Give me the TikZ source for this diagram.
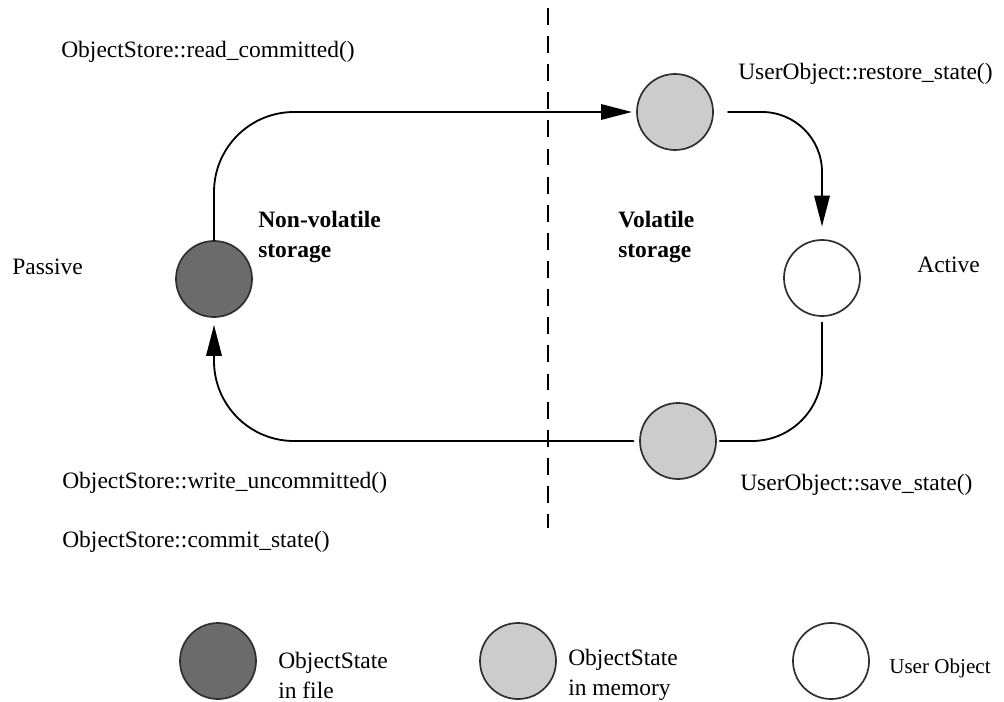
\documentclass[tikz,border=0pt]{standalone}
\usepackage{fontspec}
\setmainfont{Liberation Serif}
\usetikzlibrary{arrows.meta, positioning}
\definecolor{filegray}{gray}{0.42}
\definecolor{memgray}{gray}{0.8}
\definecolor{rimgray}{gray}{0.18}

\begin{document}
\begin{tikzpicture}[
    x=0.025cm, y=-0.025cm,
    every node/.style={font=\fontsize{16.7}{21.3}\selectfont},
    state/.style={circle, draw=rimgray, line width=1.2pt, inner sep=0pt, minimum size=1.9cm},
    lbl/.style={anchor=west, inner sep=0pt, align=left},
    flow/.style={line width=1.3pt, line cap=round},
    arrow/.style={-{Triangle[length=22pt, width=11pt]}}
]
    \useasboundingbox (0,0) rectangle (1004,702);

    % divider between non-volatile and volatile storage
    \coordinate (divtop) at (548,8);
    \coordinate (divbot) at (548,528);
    \draw[line width=1pt, dash pattern=on 12pt off 8pt] (divtop) -- (divbot);

    % the four states
    \node[state, fill=filegray] (file) at (214,279) {};
    \node[state, fill=memgray] (fetched) at (675,112) {};
    \node[state, fill=white] (user) at (822,278) {};
    \node[state, fill=memgray] (saved) at (678,441) {};

    % flow round the cycle
    \draw[flow, arrow, rounded corners=2cm, shorten >=3pt] (file.north) |- (fetched.west);
    \draw[flow, arrow, rounded corners=1.5cm, shorten <=10pt, shorten >=9pt] (fetched.east) -| (user.north);
    \draw[flow, rounded corners=1.75cm, shorten <=4pt, shorten >=2pt] (user.south) |- (saved.east);
    \draw[flow, arrow, rounded corners=2cm, shorten <=4pt, shorten >=5pt] (saved.west) -| (file.south);

    % labels
    \node[lbl] (readc) at (61,52) {ObjectStore::read\_committed()};
    \node[lbl] (restore) at (738,74) {UserObject::restore\_state()};
    \node[lbl, font=\fontsize{16.7}{21.3}\selectfont\bfseries] (nonvol) at (258,237) {Non-volatile\\storage};
    \node[lbl, font=\fontsize{16.7}{21.3}\selectfont\bfseries] (vol) at (618,237) {Volatile\\storage};
    \node[lbl] (passive) at (12,267) {Passive};
    \node[lbl] (active) at (917,265) {Active};
    \node[lbl] (writeu) at (62,483) {ObjectStore::write\_uncommitted()};
    \node[lbl] (savest) at (740,485) {UserObject::save\_state()};
    \node[lbl] (commit) at (62,542) {ObjectStore::commit\_state()};

    % key
    \node[state, fill=filegray] (keyfile) at (218,661) {};
    \node[lbl] (keyfiletext) at (278,675) {ObjectState\\in file};
    \node[state, fill=memgray] (keymem) at (518,661) {};
    \node[lbl] (keymemtext) at (568,675) {ObjectState\\in memory};
    \node[state, fill=white] (keyuser) at (831,661) {};
    \node[lbl, font=\fontsize{15}{18}\selectfont] (keyusertext) at (889,668) {User Object};
\end{tikzpicture}
\end{document}
